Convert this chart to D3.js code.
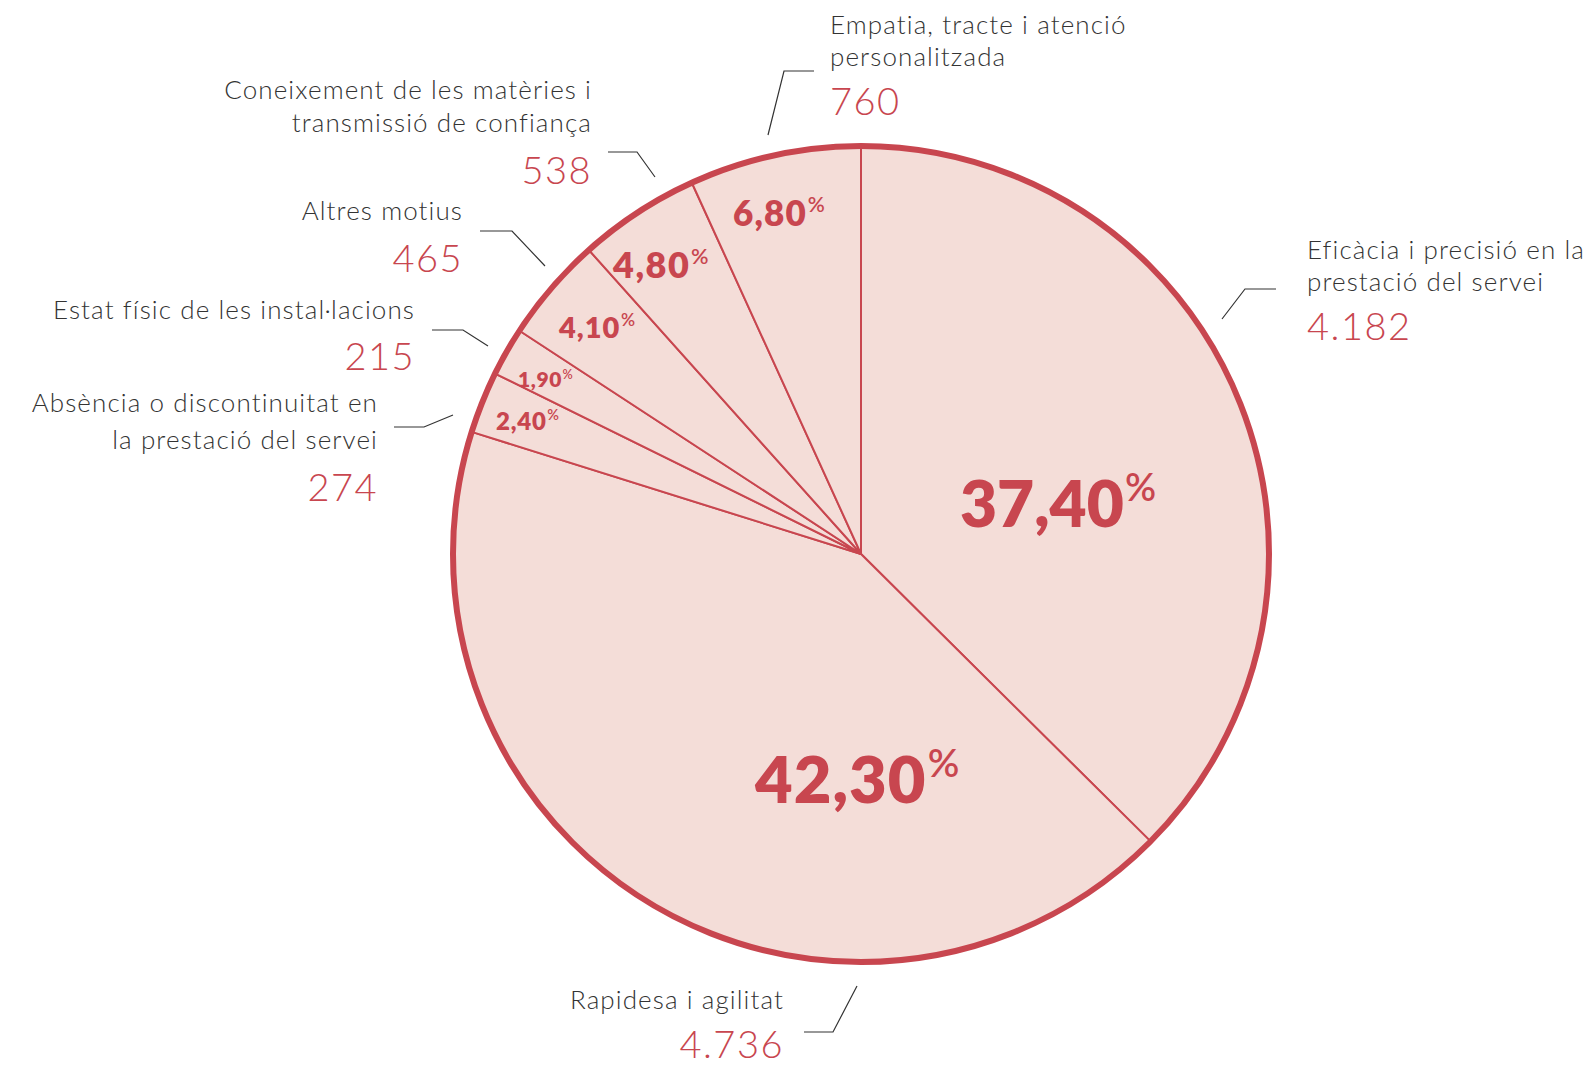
<!DOCTYPE html>
<html>
<head>
<meta charset="utf-8">
<script src="https://cdn.jsdelivr.net/npm/d3@7"></script>
<style>
  body { margin: 0; background: #fff; }
  svg { display: block; }
</style>
</head>
<body>
<div class="canva"></div>
<script>
// data
const categories = ["Eficàcia i precisió en la prestació del servei", "Rapidesa i agilitat",
  "Absència o discontinuitat en la prestació del servei", "Estat físic de les instal·lacions",
  "Altres motius", "Coneixement de les matèries i transmissió de confiança",
  "Empatia, tracte i atenció personalitzada"];
const labelLines = [["Eficàcia i precisió en la", "prestació del servei"], ["Rapidesa i agilitat"],
  ["Absència o discontinuitat en", "la prestació del servei"], ["Estat físic de les instal·lacions"],
  ["Altres motius"], ["Coneixement de les matèries i", "transmissió de confiança"],
  ["Empatia, tracte i atenció", "personalitzada"]];
const counts = [4182, 4736, 274, 215, 465, 538, 760];
const countLabels = ["4.182", "4.736", "274", "215", "465", "538", "760"];
const percentLabels = ["37,40", "42,30", "2,40", "1,90", "4,10", "4,80", "6,80"];

const width = 1590, height = 1066;
const cx = 861, cy = 554, radius = 408;
const red = "#c8464f", fill = "#f4ddd8", ink = "#333";

// label layout (text anchor, positions, leader line, percent label)
const layout = [
  {anchor: "start", x: 1307, lines: [259, 291], count: 340, leader: [[1222,319],[1245,289],[1276,289]], px: 960, py: 527, ps: 64, ls: 0},
  {anchor: "end", x: 784, lines: [1009], count: 1058, leader: [[857,986],[833,1032],[804,1032]], px: 755, py: 803, ps: 65, ls: 1},
  {anchor: "end", x: 378, lines: [412, 449], count: 501, leader: [[394,427],[424,427],[453,415]], px: 496, py: 430, ps: 24, ls: 0.8},
  {anchor: "end", x: 415, lines: [319], count: 370, leader: [[432,330],[463,330],[488,346]], px: 518, py: 387, ps: 21, ls: 0.6},
  {anchor: "end", x: 463, lines: [220], count: 272, leader: [[480,231],[512,231],[545,266]], px: 559, py: 338, ps: 29, ls: 1},
  {anchor: "end", x: 592, lines: [99, 132], count: 184, leader: [[608,152],[637,152],[655,177]], px: 613, py: 278, ps: 36, ls: 1.5},
  {anchor: "start", x: 830, lines: [34, 66], count: 115, leader: [[768,135],[784,71],[814,71]], px: 733, py: 226, ps: 35, ls: 1.2}
];

const svg = d3.select(".canva").append("svg")
  .attr("width", width)
  .attr("height", height);

const pie = d3.pie().sort(null).value(d => d);
const arcs = pie(counts);
const arc = d3.arc().innerRadius(0).outerRadius(radius);

const g = svg.append("g").attr("transform", `translate(${cx}, ${cy})`);

// slices
g.selectAll("path.slice")
  .data(arcs)
  .enter()
  .append("path")
  .attr("class", "slice")
  .attr("d", arc)
  .style("fill", fill)
  .style("stroke", red)
  .style("stroke-width", 2)
  .style("stroke-linejoin", "round");

// outer ring
g.append("circle")
  .attr("r", radius)
  .style("fill", "none")
  .style("stroke", red)
  .style("stroke-width", 6);

// percentages
arcs.forEach((a, i) => {
  const l = layout[i];
  const t = svg.append("text")
    .attr("x", l.px)
    .attr("y", l.py)
    .style("font-family", "Lato, 'Open Sans', sans-serif")
    .style("font-weight", 800)
    .style("font-size", l.ps + "px")
    .style("letter-spacing", l.ls + "px")
    .style("fill", red);
  t.append("tspan").text(percentLabels[i]);
  t.append("tspan")
    .attr("dx", l.ps * 0.02)
    .attr("dy", -l.ps * 0.4)
    .style("font-size", (l.ps * 0.6) + "px")
    .style("font-weight", 600)
    .style("letter-spacing", "0px")
    .text("%");
});

// outside labels
const line = d3.line();
layout.forEach((l, i) => {
  svg.append("path")
    .attr("d", line(l.leader))
    .style("fill", "none")
    .style("stroke", ink)
    .style("stroke-width", 1.2);

  labelLines[i].forEach((s, j) => {
    svg.append("text")
      .attr("x", l.x)
      .attr("y", l.lines[j])
      .attr("text-anchor", l.anchor)
      .style("font-family", "Lato, 'Open Sans', sans-serif")
      .style("font-weight", 300)
      .style("font-size", "26px")
      .style("letter-spacing", "1.1px")
      .style("fill", ink)
      .text(s);
  });

  svg.append("text")
    .attr("x", l.x)
    .attr("y", l.count)
    .attr("text-anchor", l.anchor)
    .style("font-family", "Lato, 'Open Sans', sans-serif")
    .style("font-weight", 300)
    .style("font-size", "38px")
    .style("letter-spacing", "1.5px")
    .style("fill", red)
    .text(countLabels[i]);
});
</script>
</body>
</html>
